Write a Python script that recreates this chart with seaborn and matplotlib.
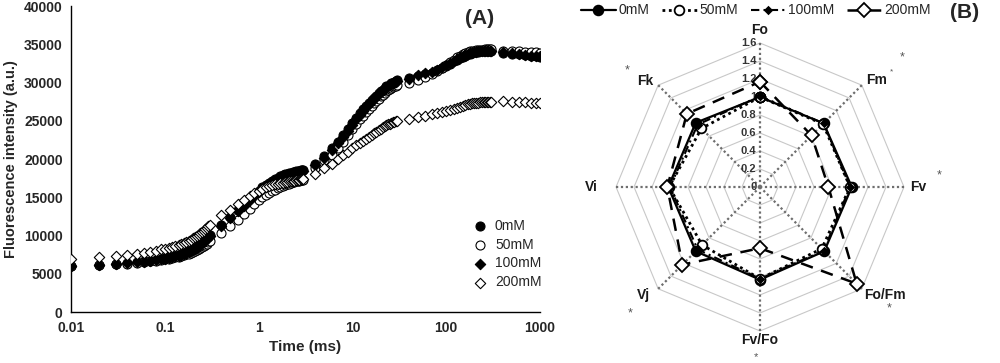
import matplotlib
matplotlib.use("Agg")
import matplotlib.pyplot as plt
import numpy as np
import pandas as pd
import seaborn as sns

# ---- panel A: OJIP fluorescence transients (time in ms, intensity in thousands a.u.)
time_ms = [
    0.01, 0.02, 0.03, 0.04, 0.05, 0.06, 0.07, 0.08, 0.09, 0.10,
    0.11, 0.12, 0.13, 0.14, 0.15, 0.16, 0.17, 0.18, 0.19, 0.20,
    0.21, 0.22, 0.23, 0.24, 0.25, 0.26, 0.27, 0.28, 0.29, 0.30,
    0.4, 0.5, 0.6, 0.7, 0.8, 0.9, 1.0, 1.1, 1.2, 1.3, 1.4, 1.5, 1.6, 1.7,
    1.8, 1.9, 2.0, 2.1, 2.2, 2.3, 2.4, 2.5, 2.6, 2.7, 2.8, 2.9, 3.0,
    4, 5, 6, 7, 8, 9, 10, 11, 12, 13, 14, 15, 16, 17,
    18, 19, 20, 21, 22, 23, 24, 25, 26, 27, 28, 29, 30,
    40, 50, 60, 70, 80, 90, 100, 110, 120, 130, 140, 150, 160, 170,
    180, 190, 200, 210, 220, 230, 240, 250, 260, 270, 280, 290, 300,
    400, 500, 600, 700, 800, 900, 1000,
]

f_0mM = [
    6.0, 6.2, 6.3, 6.4, 6.55, 6.65, 6.75, 6.85, 6.95, 7.05,
    7.15, 7.25, 7.35, 7.45, 7.55, 7.7, 7.8, 7.95, 8.1, 8.25,
    8.4, 8.55, 8.75, 8.9, 9.1, 9.3, 9.5, 9.7, 9.9, 10.1,
    11.4, 12.5, 13.3, 14.0, 14.7, 15.3, 15.9, 16.3, 16.6, 16.9, 17.2, 17.4, 17.6, 17.75,
    17.9, 18.0, 18.1, 18.2, 18.25, 18.3, 18.35, 18.4, 18.45, 18.5, 18.55, 18.6, 18.6,
    19.4, 20.4, 21.4, 22.3, 23.1, 23.9, 24.7, 25.4, 26.0, 26.5, 26.9, 27.3, 27.7, 28.0,
    28.3, 28.6, 28.9, 29.1, 29.3, 29.5, 29.6, 29.75, 29.9, 30.0, 30.1, 30.2, 30.3,
    30.6, 30.9, 31.1, 31.3, 31.6, 31.9, 32.2, 32.5, 32.8, 33.0, 33.2, 33.4, 33.55, 33.7,
    33.8, 33.9, 33.95, 34.0, 34.05, 34.1, 34.1, 34.1, 34.1, 34.1, 34.1, 34.1, 34.1,
    33.9, 33.8, 33.7, 33.6, 33.5, 33.45, 33.4,
]

f_50mM = [
    6.0, 6.15, 6.25, 6.35, 6.45, 6.55, 6.65, 6.7, 6.8, 6.9,
    7.0, 7.05, 7.15, 7.25, 7.35, 7.45, 7.55, 7.65, 7.75, 7.85,
    7.95, 8.1, 8.2, 8.35, 8.5, 8.65, 8.8, 8.95, 9.15, 9.35,
    10.3, 11.2, 12.0, 12.8, 13.5, 14.1, 14.6, 15.0, 15.3, 15.6, 15.8, 16.0, 16.2, 16.35,
    16.5, 16.6, 16.7, 16.8, 16.9, 17.0, 17.05, 17.1, 17.15, 17.2, 17.25, 17.3, 17.3,
    18.9, 19.9, 20.6, 21.4, 22.3, 23.1, 23.9, 24.6, 25.2, 25.7, 26.2, 26.6, 27.0, 27.3,
    27.6, 27.9, 28.2, 28.45, 28.65, 28.85, 29.0, 29.15, 29.3, 29.4, 29.5, 29.6, 29.7,
    30.0, 30.3, 30.7, 31.1, 31.5, 31.9, 32.3, 32.7, 33.0, 33.3, 33.5, 33.7, 33.85, 34.0,
    34.1, 34.15, 34.2, 34.25, 34.3, 34.3, 34.3, 34.3, 34.35, 34.35, 34.35, 34.35, 34.35,
    34.2, 34.15, 34.1, 34.05, 34.0, 33.95, 33.9,
]

f_100mM = [
    6.0, 6.2, 6.3, 6.4, 6.5, 6.6, 6.7, 6.8, 6.9, 7.0,
    7.1, 7.2, 7.3, 7.4, 7.5, 7.6, 7.7, 7.85, 8.0, 8.15,
    8.3, 8.45, 8.6, 8.8, 9.0, 9.2, 9.4, 9.6, 9.8, 10.0,
    11.2, 12.3, 13.2, 13.9, 14.6, 15.2, 15.7, 16.1, 16.4, 16.7, 17.0, 17.2, 17.4, 17.55,
    17.7, 17.8, 17.9, 18.0, 18.05, 18.1, 18.15, 18.2, 18.25, 18.3, 18.35, 18.4, 18.4,
    19.2, 20.2, 21.2, 22.1, 22.9, 23.7, 24.5, 25.2, 25.8, 26.3, 26.8, 27.2, 27.6, 27.9,
    28.2, 28.5, 28.8, 29.0, 29.2, 29.4, 29.5, 29.65, 29.8, 29.9, 30.0, 30.1, 30.2,
    30.5, 31.0, 31.2, 31.4, 31.7, 32.0, 32.3, 32.6, 32.85, 33.1, 33.3, 33.45, 33.6, 33.75,
    33.85, 33.9, 34.0, 34.05, 34.1, 34.1, 34.15, 34.15, 34.15, 34.15, 34.15, 34.15, 34.15,
    33.95, 33.85, 33.75, 33.65, 33.55, 33.5, 33.45,
]

f_200mM = [
    6.9, 7.2, 7.4, 7.5, 7.65, 7.8, 7.9, 8.05, 8.2, 8.3,
    8.45, 8.55, 8.7, 8.8, 8.95, 9.05, 9.2, 9.35, 9.5, 9.65,
    9.8, 9.95, 10.1, 10.3, 10.45, 10.65, 10.85, 11.05, 11.25, 11.45,
    12.7, 13.4, 14.2, 14.7, 15.2, 15.6, 15.9, 16.1, 16.3, 16.45, 16.6, 16.7, 16.8, 16.9,
    16.95, 17.0, 17.05, 17.1, 17.15, 17.2, 17.2, 17.25, 17.3, 17.3, 17.35, 17.35, 17.4,
    18.1, 18.8, 19.4, 20.0, 20.6, 21.0, 21.4, 21.8, 22.1, 22.4, 22.7, 22.95, 23.2, 23.4,
    23.6, 23.8, 24.0, 24.15, 24.3, 24.45, 24.55, 24.65, 24.75, 24.85, 24.9, 24.95, 25.0,
    25.3, 25.5, 25.7, 25.85, 26.0, 26.15, 26.3, 26.45, 26.6, 26.75, 26.85, 26.95, 27.05, 27.15,
    27.2, 27.3, 27.35, 27.4, 27.4, 27.45, 27.45, 27.5, 27.5, 27.5, 27.5, 27.5, 27.5,
    27.55, 27.5, 27.5, 27.45, 27.4, 27.35, 27.3,
]

treatments = ["0mM", "50mM", "100mM", "200mM"]
x_ticks = [0.01, 0.1, 1, 10, 100, 1000]
x_tick_labels = ["0.01", "0.1", "1", "10", "100", "1000"]
y_ticks = [0, 5000, 10000, 15000, 20000, 25000, 30000, 35000, 40000]

# ---- panel B: JIP-test parameters relative to control
params = ["Fo", "Fm", "Fv", "Fo/Fm", "Fv/Fo", "Vj", "Vi", "Fk"]
r_0mM = [1.0, 1.0, 1.02, 1.01, 1.03, 1.01, 1.02, 1.01]
r_50mM = [1.0, 0.99, 1.0, 0.97, 1.02, 0.91, 1.01, 0.92]
r_100mM = [1.01, 1.0, 1.0, 1.0, 1.02, 0.98, 1.0, 0.98]
r_200mM = [1.17, 0.81, 0.76, 1.52, 0.68, 1.22, 1.03, 1.15]
r_ticks = [0, 0.2, 0.4, 0.6, 0.8, 1, 1.2, 1.4, 1.6]
starred = ["Fm", "Fv", "Fo/Fm", "Fv/Fo", "Vj", "Fk"]

sns.set_theme(style="white")
plt.rcParams["font.family"] = ["Liberation Sans", "DejaVu Sans"]

fig = plt.figure(figsize=(10, 3.63), dpi=100)

# ---------------- panel A ----------------
ax = fig.add_axes([0.071, 0.14, 0.469, 0.843])
series = [f_0mM, f_50mM, f_100mM, f_200mM]
styles = [
    dict(marker="o", color="black", s=42),
    dict(marker="o", color="white", s=42),
    dict(marker="D", color="black", s=28),
    dict(marker="D", color="white", s=28),
]
for name, vals, st in zip(treatments, series, styles):
    df = pd.DataFrame({"time": time_ms, "F": np.array(vals) * 1000})
    sns.scatterplot(data=df, x="time", y="F", ax=ax, marker=st["marker"],
                    color=st["color"], s=st["s"], edgecolor="black",
                    linewidth=0.8, label=name, zorder=3)

ax.set_xscale("log")
ax.set_xlim(0.01, 1000)
ax.set_ylim(0, 40000)
ax.set_xticks(x_ticks)
ax.set_xticklabels(x_tick_labels)
ax.minorticks_off()
ax.set_yticks(y_ticks)
ax.set_yticklabels([str(v) for v in y_ticks])
for lab in ax.get_xticklabels() + ax.get_yticklabels():
    lab.set_fontweight("bold")
    lab.set_fontsize(10)
ax.tick_params(axis="x", direction="in", length=4, width=1, color="black", pad=6)
ax.tick_params(axis="y", direction="out", length=4, width=1, color="black", pad=2)
ax.set_xlabel("Time (ms)", fontsize=11, fontweight="bold", labelpad=4)
ax.set_ylabel("Fluorescence intensity (a.u.)", fontsize=10.5, fontweight="bold", labelpad=4)
for side in ["top", "right"]:
    ax.spines[side].set_visible(False)
for side in ["left", "bottom"]:
    ax.spines[side].set_color("black")
    ax.spines[side].set_linewidth(1.0)
ax.legend(loc="center left", bbox_to_anchor=(0.83, 0.19), frameon=False,
          fontsize=10, handletextpad=0.1, labelspacing=0.35, borderaxespad=0)
fig.text(0.48, 0.95, "(A)", fontsize=15, fontweight="bold", ha="center", va="center")

# ---------------- panel B (radar) ----------------
rx = fig.add_axes([0.60, 0.0441, 0.32, 0.8815])
lim = 1.778
rx.set_xlim(-lim, lim)
rx.set_ylim(-lim, lim)
rx.axis("off")

n = len(params)
theta = np.arange(n) * 2 * np.pi / n
sx, sy = np.sin(theta), np.cos(theta)

# octagonal rings
for r in r_ticks[1:]:
    rx.plot(np.append(r * sx, r * sx[0]), np.append(r * sy, r * sy[0]),
            color="#c8c8c8", lw=0.8, zorder=1)
# dotted spokes
rmax = r_ticks[-1]
for i in range(n):
    rx.plot([0, rmax * sx[i]], [0, rmax * sy[i]], color="#6e6e6e", lw=1.6,
            linestyle=(0, (1, 1.2)), zorder=2)
# radial tick labels along Fo spoke
for r in r_ticks:
    lab = "0" if r == 0 else ("1" if r == 1 else f"{r:g}")
    rx.text(-0.04, r, lab, ha="right", va="center", fontsize=8, fontweight="bold",
            color="#333333", zorder=4)

radar_series = [r_0mM, r_50mM, r_100mM, r_200mM]
radar_styles = [
    dict(ls="-", lw=1.6, marker="o", ms=7, mfc="black"),
    dict(ls=(0, (1, 1.3)), lw=2.0, marker="o", ms=7, mfc="white"),
    dict(ls=(0, (4, 2, 1, 2)), lw=1.5, marker="D", ms=3.5, mfc="black"),
    dict(ls=(0, (5, 3.5)), lw=1.8, marker="D", ms=7, mfc="white"),
]
handles = []
for name, vals, st in zip(treatments, radar_series, radar_styles):
    v = np.array(vals)
    xs = np.append(v * sx, v[0] * sx[0])
    ys = np.append(v * sy, v[0] * sy[0])
    line, = rx.plot(xs, ys, color="black", linestyle=st["ls"], lw=st["lw"],
                    marker=st["marker"], ms=st["ms"], mfc=st["mfc"], mec="black",
                    mew=1.3, zorder=5, label=name)
    handles.append(line)

label_pos = {
    "Fo": (0.0, 1.74), "Fm": (1.29, 1.19), "Fv": (1.76, 0.0),
    "Fo/Fm": (1.39, -1.2), "Fv/Fo": (0.0, -1.70), "Vj": (-1.29, -1.2),
    "Vi": (-1.87, 0.0), "Fk": (-1.28, 1.18),
}
for p in params:
    x, y = label_pos[p]
    rx.text(x, y, p, ha="center", va="center", fontsize=10, fontweight="bold",
            color="#1a1a1a")

star_pos = {
    "Fm": [(1.58, 1.44, 9), (1.46, 1.28, 6)], "Fv": [(1.99, 0.13, 9)],
    "Fo/Fm": [(1.43, -1.35, 9)], "Fv/Fo": [(-0.05, -1.89, 8)],
    "Vj": [(-1.44, -1.41, 9)], "Fk": [(-1.48, 1.30, 9)],
}
for p in starred:
    for x, y, fs in star_pos[p]:
        rx.text(x, y, "*", ha="center", va="center", fontsize=fs, color="#555555")

fig.legend(handles=handles, labels=treatments, loc="upper center",
           bbox_to_anchor=(0.756, 1.025), ncol=4, frameon=False, fontsize=10,
           handlelength=2.5, handletextpad=0.2, columnspacing=0.9)
fig.text(0.965, 0.965, "(B)", fontsize=15, fontweight="bold", ha="center", va="center")

fig.savefig("out.png", dpi=100, facecolor="white")
